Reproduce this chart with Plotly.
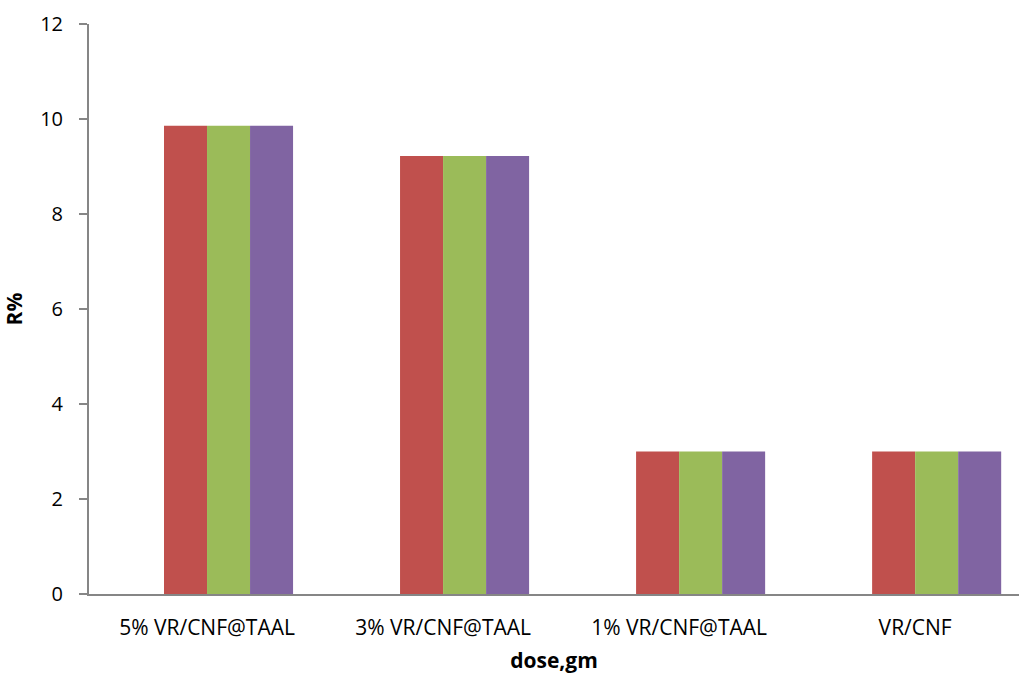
import plotly.graph_objects as go

categories = ["5% VR/CNF@TAAL", "3% VR/CNF@TAAL", "1% VR/CNF@TAAL", "VR/CNF"]
series_names = ["Series 0", "Series 1", "Series 2", "Series 3"]
series_values = [
    [0, 0, 0, 0],
    [9.86, 9.22, 3.0, 3.0],
    [9.86, 9.22, 3.0, 3.0],
    [9.86, 9.22, 3.0, 3.0],
]
colors = ["#4F81BD", "#C0504D", "#9BBB59", "#8064A2"]
y_ticks = [0, 2, 4, 6, 8, 10, 12]

fig = go.Figure()
for name, vals, c in zip(series_names, series_values, colors):
    fig.add_trace(go.Bar(x=categories, y=vals, name=name, marker_color=c,
                         marker_line_width=0, showlegend=False))

fam = "'Open Sans', sans-serif"
xfont = dict(family=fam, size=21, color="#000000")
yfont = dict(family=fam, size=20, color="#000000")
tfont = dict(family=fam, size=21, color="#000000")
fig.update_layout(
    width=1019, height=674,
    margin=dict(l=89, r=0, t=23.5, b=80),
    paper_bgcolor="white", plot_bgcolor="white",
    barmode="group", bargap=0.271, bargroupgap=0,
    font=xfont,
    xaxis=dict(
        range=[-0.5, 3.44], showline=True, linecolor="#868686", linewidth=2,
        ticks="", showgrid=False, tickfont=xfont, ticklabelstandoff=14,
        title=dict(text="<b>dose,gm</b>", font=tfont, standoff=14),
    ),
    yaxis=dict(
        range=[0, 12], tickvals=y_ticks, showline=True, linecolor="#868686", linewidth=2,
        ticks="outside", ticklen=8, tickcolor="#868686", tickwidth=1.5,
        showgrid=False, zeroline=False, tickfont=yfont, ticklabelstandoff=12,
        title=dict(text="<b>R%</b>", font=tfont, standoff=12),
    ),
)
fig.write_html("out.html")
